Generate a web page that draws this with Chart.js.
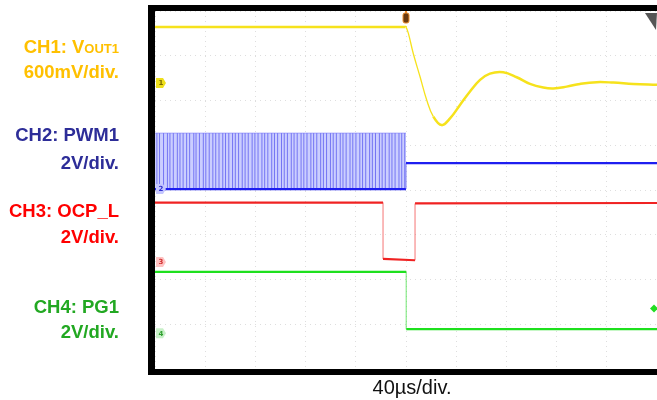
<!DOCTYPE html>
<html>
<head>
<meta charset="utf-8">
<script src="https://cdn.jsdelivr.net/npm/chart.js@4"></script>
<style>
  html, body { margin: 0; padding: 0; background: #fff; }
  #wrap { position: relative; width: 657px; height: 400px; overflow: hidden; }
  #scope { position: absolute; left: 0; top: 0; }
  .lbl {
    position: absolute; right: 538px; line-height: 1; white-space: nowrap; text-align: right;
    font: bold 18.5px "Liberation Sans", Arial, sans-serif; transform: translateY(-50%);
  }
  .lbl sub { font-size: 13px; vertical-align: baseline; }
  #xlabel {
    position: absolute; left: 412px; top: 387px; transform: translate(-50%, -50%);
    font: 20px "Liberation Sans", Arial, sans-serif; line-height: 1; color: #111;
  }
</style>
</head>
<body>
<div id="wrap">
  <canvas id="scope" width="657" height="400"></canvas>
  <div class="lbl" style="top:47px;color:#ffc000">CH1: V<sub>OUT1</sub></div>
  <div class="lbl" style="top:72px;color:#ffc000">600mV/div.</div>
  <div class="lbl" style="top:135px;color:#2d2d98">CH2: PWM1</div>
  <div class="lbl" style="top:163px;color:#2d2d98">2V/div.</div>
  <div class="lbl" style="top:211px;color:#ff0000">CH3: OCP_L</div>
  <div class="lbl" style="top:237px;color:#ff0000">2V/div.</div>
  <div class="lbl" style="top:307px;color:#22a822">CH4: PG1</div>
  <div class="lbl" style="top:332px;color:#22a822">2V/div.</div>
  <div id="xlabel">40µs/div.</div>
</div>
<script>
// time in µs (40µs/div, trigger at centre), levels in screen divisions (8 div tall, 0 = centre)
const ch1Time = [-200, -1, 0, 1.9, 5.8, 11.2, 16.5, 21.8, 28.4, 35.1, 43.0, 51.0, 59.0, 66.9, 77.5, 88.2, 98.8, 109.4, 117.4, 128, 138.6, 151.9, 165.2, 181.1, 200];
const ch1Div  = [3.64, 3.64, 3.64, 3.50, 3.05, 2.53, 2.01, 1.64, 1.45, 1.60, 1.90, 2.20, 2.46, 2.60, 2.63, 2.52, 2.37, 2.29, 2.27, 2.31, 2.37, 2.41, 2.40, 2.37, 2.35];

const ch2Time = [-200, 0, 0, 200];
const ch2Div  = [0.02, 0.02, 0.60, 0.60];
const pwmTop = 1.27;
const pwmPulses = [-198.5, -196.4, -193.2, -190.1, -188.1, -185.4, -182.2, -180.1, -177.6, -174.8, -172.4, -169.1,
  -167.3, -164.6, -161.5, -159.5, -156.8, -153.9, -151.6, -149.0, -146.0, -143.8, -141.2, -138.2, -136.0,
  -133.4, -130.5, -128.2, -125.7, -122.6, -120.4, -117.9, -114.8, -112.6, -110.1, -107.0, -104.8, -102.3,
  -99.2, -97.0, -94.5, -91.4, -89.2, -86.7, -83.6, -81.4, -78.9, -75.8, -73.6, -71.1, -68.0, -65.8, -63.3,
  -60.2, -58.0, -55.5, -52.4, -50.2, -47.7, -44.6, -42.4, -39.9, -36.8, -34.6, -32.1, -29.0, -26.8, -24.3,
  -21.2, -19.0, -16.5, -13.4, -11.2, -8.7, -5.6, -3.4, -1.0];

const ch3Time = [-200, -18.3, -18.3, 7.2, 7.2, 200];
const ch3Div  = [-0.28, -0.28, -1.54, -1.57, -0.30, -0.29];

const ch4Time = [-200, 0.2, 0.2, 200];
const ch4Div  = [-1.83, -1.83, -3.11, -3.11];

// ground reference markers (div) for CH1..CH4, and PG marker on right edge
const refLevels = [2.39, 0.02, -1.61, -3.20];
const refNames = ['1', '2', '3', '4'];
const pgMarkLevel = -2.65;

const tagFill = ['#eedf1c', '#c4c6ff', '#ffc2c2', '#c8f0c8'];
const tagInk = ['#7a6a00', '#3030d0', '#d03030', '#30a030'];

const pts = (xs, ys) => xs.map((x, i) => ({ x: x, y: ys[i] }));

const pulseData = [];
pwmPulses.forEach((t) => {
    pulseData.push({ x: t, y: ch2Div[0] }, { x: t, y: pwmTop }, { x: t, y: null });
});

// thinner, paler line on steep edges like a scope trace
function edgeStyle(color, edgeColor, w) {
    return {
        borderWidth: (ctx) => {
            const dx = Math.abs(ctx.p1.x - ctx.p0.x), dy = Math.abs(ctx.p1.y - ctx.p0.y);
            return dy > dx * 1.5 ? 1.3 : w;
        },
        borderColor: (ctx) => {
            const dx = Math.abs(ctx.p1.x - ctx.p0.x), dy = Math.abs(ctx.p1.y - ctx.p0.y);
            return dy > dx * 1.5 ? edgeColor : color;
        },
    };
}

const scopeDeco = {
    id: 'scopeDeco',
    beforeDraw(chart) {
        const { ctx, chartArea: a } = chart;
        ctx.save();
        ctx.fillStyle = '#000';
        ctx.fillRect(a.left - 7, a.top - 6, chart.width - a.left + 7, a.bottom - a.top + 12);
        ctx.fillStyle = '#fff';
        ctx.fillRect(a.left, a.top, a.right - a.left, a.bottom - a.top);
        ctx.restore();
    },
    afterDatasetsDraw(chart) {
        const { ctx, chartArea: a, scales } = chart;
        ctx.save();
        // channel ground tags
        refLevels.forEach((lv, i) => {
            const y = scales.y.getPixelForValue(lv);
            const x = a.left + 1;
            ctx.beginPath();
            ctx.moveTo(x, y - 5);
            ctx.lineTo(x + 7, y - 5);
            ctx.lineTo(x + 10, y);
            ctx.lineTo(x + 7, y + 5);
            ctx.lineTo(x, y + 5);
            ctx.closePath();
            ctx.fillStyle = tagFill[i];
            ctx.fill();
            ctx.fillStyle = tagInk[i];
            ctx.font = 'bold 7px "DejaVu Sans"';
            ctx.textAlign = 'center';
            ctx.textBaseline = 'middle';
            ctx.fillText(refNames[i], x + 5, y + 0.5);
        });
        // trigger position marker
        const tx = scales.x.getPixelForValue(0);
        ctx.fillStyle = '#f08a2a';
        ctx.fillRect(tx - 1, a.top, 2, 3);
        ctx.beginPath();
        ctx.roundRect(tx - 3, a.top + 2, 6, 10, 2);
        ctx.fillStyle = '#6a3a12';
        ctx.fill();
        ctx.strokeStyle = '#f0902e';
        ctx.lineWidth = 1;
        ctx.stroke();
        // trigger level arrow at top right
        ctx.beginPath();
        ctx.moveTo(a.right - 12, a.top + 2);
        ctx.lineTo(a.right, a.top + 2);
        ctx.lineTo(a.right - 1, a.top + 19);
        ctx.closePath();
        ctx.fillStyle = '#555';
        ctx.fill();
        // PG marker on right edge
        const py = scales.y.getPixelForValue(pgMarkLevel);
        ctx.beginPath();
        ctx.moveTo(a.right - 7, py);
        ctx.lineTo(a.right - 3, py - 4);
        ctx.lineTo(a.right + 1, py);
        ctx.lineTo(a.right - 3, py + 4);
        ctx.closePath();
        ctx.fillStyle = '#22dd22';
        ctx.fill();
        ctx.restore();
    },
};

new Chart(document.getElementById('scope'), {
    type: 'line',
    data: {
        datasets: [
            { data: pts(ch1Time, ch1Div), tension: 0.4, order: 0,
              segment: edgeStyle('#f6e21c', '#f6e21c', 2.5), borderColor: '#f6e21c' },
            { data: pts(ch2Time, ch2Div), order: 1, borderColor: '#1e1ef0',
              segment: edgeStyle('#1e1ef0', 'rgba(90,90,240,0.6)', 2.2) },
            { data: pts(ch3Time, ch3Div), order: 2, borderColor: '#f02222',
              segment: edgeStyle('#f02222', 'rgba(240,60,60,0.55)', 2.2) },
            { data: pts(ch4Time, ch4Div), order: 3, borderColor: '#1ee01e',
              segment: edgeStyle('#1ee01e', 'rgba(40,220,40,0.5)', 2.2) },
            { data: pulseData, order: 4, borderColor: 'rgba(95,95,240,0.8)', borderWidth: 1, spanGaps: false },
            { data: [{ x: -200, y: pwmTop }, { x: 0, y: pwmTop }], order: 5, borderWidth: 1,
              borderColor: 'rgba(140,140,250,0.8)', backgroundColor: 'rgba(203,206,255,1)',
              fill: { value: ch2Div[0] } },
        ],
    },
    options: {
        responsive: false,
        animation: false,
        devicePixelRatio: 1,
        layout: { padding: { left: 155, top: 11, right: 0, bottom: 31 } },
        elements: { point: { radius: 0, hoverRadius: 0 }, line: { borderWidth: 2.2 } },
        plugins: { legend: { display: false }, tooltip: { enabled: false } },
        scales: {
            x: {
                type: 'linear', min: -200, max: 200,
                ticks: { display: false, stepSize: 20 },
                grid: { drawTicks: false, color: (c) => (c.tick.value % 40 === 0 ? 'rgba(0,0,0,0.13)' : 'rgba(0,0,0,0)') },
                border: { display: false, dash: [1, 4] },
            },
            y: {
                type: 'linear', min: -4, max: 4,
                ticks: { display: false, stepSize: 1 },
                grid: { drawTicks: false, color: 'rgba(0,0,0,0.13)' },
                border: { display: false, dash: [1, 4] },
            },
        },
    },
    plugins: [scopeDeco],
});
</script>
</body>
</html>
